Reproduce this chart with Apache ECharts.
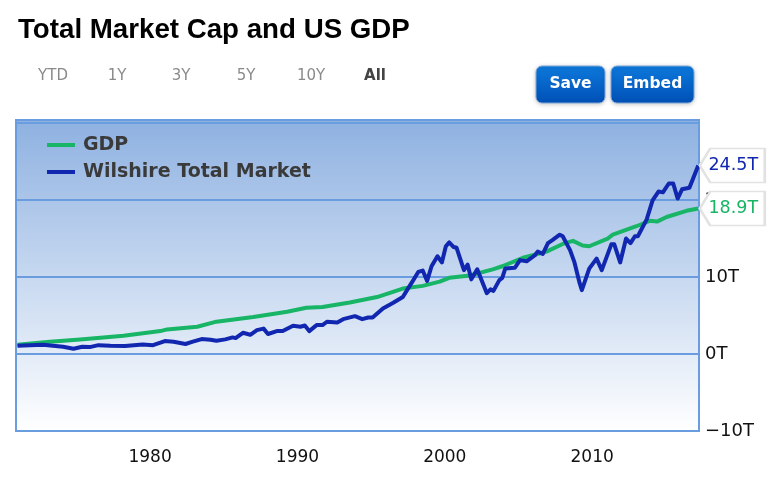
<!DOCTYPE html>
<html>
<head>
<meta charset="utf-8">
<style>
  html, body { margin: 0; padding: 0; background: #fff; }
  #root { width: 771px; height: 479px; }
</style>
<script src="https://cdn.jsdelivr.net/npm/echarts@6/dist/echarts.min.js"></script>
</head>
<body>
<div id="root"></div>
<script>
const gdpYears = [1971, 1973.2, 1975.25, 1978.2, 1980.7, 1981.15, 1983.2, 1984.5, 1987, 1989.3, 1990.6, 1991.7,
  1993.55, 1995.4, 1997.15, 1998.5, 1999.65, 2000.3, 2001.7, 2003.25, 2003.9, 2005.3, 2006.9, 2008, 2008.7,
  2009.35, 2009.8, 2011.05, 2011.4, 2013, 2013.9, 2014.4, 2015.05, 2016.4, 2017.2];
const gdpValues = [1.2, 1.6, 1.9, 2.37, 2.98, 3.2, 3.54, 4.2, 4.8, 5.5, 6, 6.1,
  6.7, 7.4, 8.5, 8.85, 9.4, 9.9, 10.2, 11, 11.4, 12.5, 13.3, 14.3, 14.7,
  14.1, 14, 15, 15.5, 16.6, 17.3, 17.2, 17.8, 18.6, 18.9];

const marketYears = [1971, 1972.75, 1973.4, 1974.1, 1974.8, 1975.4, 1975.9, 1976.5, 1977.3, 1978.3, 1979.5,
  1980.2, 1981, 1981.6, 1982.4, 1982.9, 1983.5, 1984.1, 1984.5, 1985.1, 1985.6, 1985.8, 1986.3, 1986.8,
  1987.25, 1987.7, 1988, 1988.6, 1989, 1989.7, 1990.2, 1990.5, 1990.8, 1991.3, 1991.7, 1992, 1992.7,
  1993.1, 1993.9, 1994.4, 1994.8, 1995.1, 1995.8, 1996.5, 1997.15, 1997.5, 1997.8, 1998.2, 1998.5,
  1998.8, 1999.1, 1999.5, 1999.8, 2000.07, 2000.3, 2000.6, 2000.8, 2001.3, 2001.55, 2001.8, 2002.2,
  2002.3, 2002.85, 2003.1, 2003.3, 2003.7, 2003.9, 2004.1, 2004.75, 2005.1, 2005.55, 2006.1, 2006.3,
  2006.65, 2007, 2007.3, 2007.8, 2008, 2008.5, 2008.8, 2009.15, 2009.3, 2009.8, 2010.3, 2010.65,
  2011.3, 2011.5, 2011.9, 2012.3, 2012.6, 2012.9, 2013.1, 2013.7, 2014.1, 2014.5, 2014.8, 2015.2,
  2015.5, 2015.8, 2016.1, 2016.6, 2017.2];
const marketValues = [1.07, 1.2, 1.07, 0.95, 0.69, 0.95, 0.9, 1.15, 1.07, 1.04, 1.25,
  1.15, 1.68, 1.6, 1.3, 1.6, 1.94, 1.85, 1.72, 1.9, 2.16, 2.07, 2.76, 2.5,
  3.1, 3.3, 2.6, 2.98, 2.98, 3.67, 3.54, 3.7, 2.98, 3.76, 3.76, 4.19, 4.1,
  4.53, 4.92, 4.53, 4.75, 4.75, 5.92, 6.65, 7.4, 8.5, 9.4, 10.66, 10.84,
  9.5, 11.4, 12.7, 11.9, 14, 14.5, 13.9, 13.8, 10.9, 11.6, 9.7, 11,
  11, 7.9, 8.4, 8.2, 9.6, 9.9, 11.1, 11.2, 12.2, 12.05, 12.8, 13.3,
  13, 14.4, 14.8, 15.5, 15.3, 13.5, 11.9, 9.2, 8.3, 11.1, 12.4, 10.9,
  14.25, 14.25, 11.9, 15, 14.4, 15.3, 15.3, 17.5, 19.95, 21.1, 21, 22.15,
  22.15, 20.2, 21.4, 21.6, 24.5];

const yearTicks = [1980, 1990, 2000, 2010];
const valueTicks = [-10, 0, 10, 20];
const rangeLabels = ["YTD", "1Y", "3Y", "5Y", "10Y", "All"];
const rangeCentres = [53, 117, 181, 246, 311, 375];

const uiFont = "DejaVu Sans";
const gdpColor = "#17b565";
const marketColor = "#1127b0";
const borderColor = "#6a9ce0";
const tagPath = "path://M0,50 L16,0 L100,0 L100,100 L16,100 Z";

function zip(xs, ys) {
  return xs.map((x, i) => [x, ys[i]]);
}

function formatValue(v) {
  return (v < 0 ? "\u2212" + Math.abs(v) : v) + "T";
}

function endTag(years, values, color) {
  const last = values[values.length - 1];
  return {
    silent: true,
    animation: false,
    symbol: tagPath,
    symbolSize: [65, 34],
    symbolOffset: [34, 0],
    symbolKeepAspect: false,
    itemStyle: { color: "#fff", borderColor: "#e2e2e2", borderWidth: 2 },
    label: {
      show: true,
      position: "inside",
      offset: [1, 0],
      formatter: last + "T",
      color: color,
      fontFamily: uiFont,
      fontSize: 17.5
    },
    data: [{ coord: [years[years.length - 1], last] }]
  };
}

function button(x, width, text) {
  return [
    {
      type: "rect",
      shape: { x: x, y: 66, width: width, height: 37, r: 6 },
      style: {
        fill: new echarts.graphic.LinearGradient(0, 0, 0, 1, [
          { offset: 0, color: "#0d79dc" },
          { offset: 1, color: "#0050b6" }
        ]),
        stroke: "#7fa9d8",
        lineWidth: 1,
        shadowBlur: 4,
        shadowColor: "rgba(0,0,0,0.2)",
        shadowOffsetY: 1
      }
    },
    {
      type: "text",
      style: {
        x: x + width / 2,
        y: 84,
        text: text,
        fill: "#fff",
        align: "center",
        verticalAlign: "middle",
        font: "bold 15.5px '" + uiFont + "'"
      }
    }
  ];
}

const rangeItems = rangeLabels.map((label, i) => ({
  type: "text",
  style: {
    x: rangeCentres[i],
    y: 76,
    text: label,
    fill: label === "All" ? "#444" : "#8a8a8a",
    align: "center",
    verticalAlign: "middle",
    font: (label === "All" ? "bold " : "") + "15px '" + uiFont + "'"
  }
}));

const chart = echarts.init(document.getElementById("root"), null, { renderer: "canvas" });

chart.setOption({
  animation: false,
  backgroundColor: "#fff",
  title: {
    text: "Total Market Cap and US GDP",
    left: 18,
    top: 16,
    padding: 0,
    textStyle: {
      color: "#000",
      fontFamily: "Liberation Sans",
      fontWeight: "bold",
      fontSize: 27.7
    }
  },
  legend: {
    left: 47,
    top: 134,
    padding: 0,
    orient: "vertical",
    itemWidth: 28,
    itemHeight: 4,
    itemGap: 5,
    icon: "rect",
    data: ["GDP", "Wilshire Total Market"],
    textStyle: {
      color: "#3a3a3a",
      fontFamily: uiFont,
      fontWeight: "bold",
      fontSize: 19,
      lineHeight: 22,
      padding: [0, 0, 0, 3]
    }
  },
  grid: {
    left: 16,
    right: 72,
    top: 120,
    height: 311,
    show: true,
    borderWidth: 2,
    borderColor: borderColor,
    backgroundColor: new echarts.graphic.LinearGradient(0, 0, 0, 1, [
      { offset: 0, color: "#8eb1e1" },
      { offset: 1, color: "#ffffff" }
    ])
  },
  xAxis: {
    type: "value",
    min: 1970.9,
    max: 2017.25,
    splitLine: { show: false },
    axisLine: { show: false },
    axisTick: { show: false },
    axisLabel: {
      customValues: yearTicks,
      formatter: (v) => String(v),
      color: "#111",
      fontFamily: uiFont,
      fontSize: 17,
      margin: 18
    }
  },
  yAxis: {
    type: "value",
    position: "right",
    min: -10,
    max: 30.4,
    interval: 10,
    splitLine: { lineStyle: { color: borderColor, width: 2 } },
    axisLine: { show: false },
    axisTick: { show: false },
    axisLabel: {
      customValues: valueTicks,
      formatter: formatValue,
      color: "#111",
      fontFamily: uiFont,
      fontSize: 18,
      margin: 6
    }
  },
  series: [
    {
      name: "GDP",
      type: "line",
      data: zip(gdpYears, gdpValues),
      showSymbol: false,
      z: 3,
      lineStyle: { color: gdpColor, width: 4, join: "round" },
      itemStyle: { color: gdpColor },
      markPoint: endTag(gdpYears, gdpValues, gdpColor)
    },
    {
      name: "Wilshire Total Market",
      type: "line",
      data: zip(marketYears, marketValues),
      showSymbol: false,
      z: 4,
      lineStyle: { color: marketColor, width: 4, join: "round" },
      itemStyle: { color: marketColor },
      markPoint: endTag(marketYears, marketValues, marketColor)
    }
  ],
  graphic: { elements: rangeItems.concat(button(536, 69, "Save"), button(611, 83, "Embed")) }
});
</script>
</body>
</html>
